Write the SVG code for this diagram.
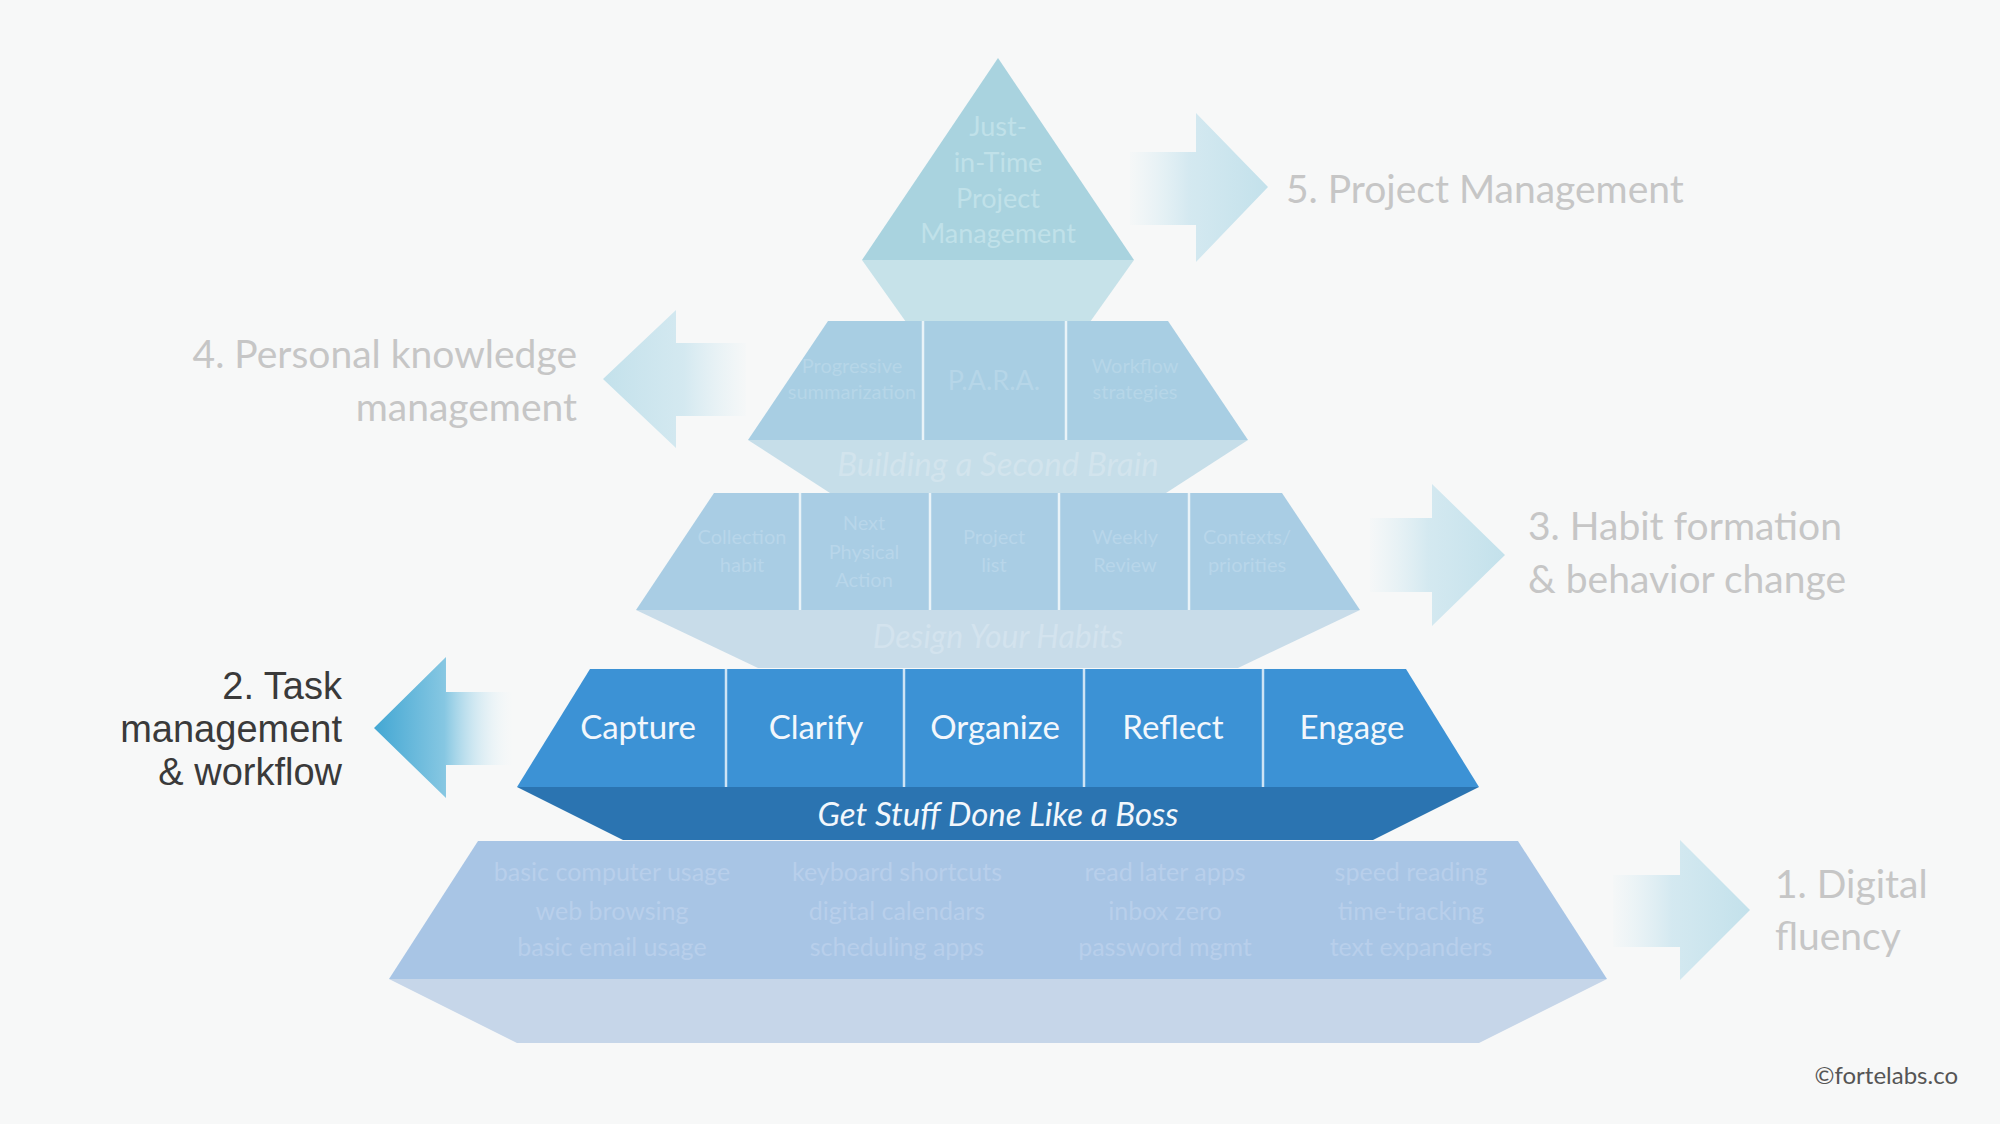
<svg xmlns="http://www.w3.org/2000/svg" width="2000" height="1124" viewBox="0 0 2000 1124">
<defs>
<style>
.side{font-family:Lato,"Source Sans Pro","Open Sans",sans-serif;font-size:39px;fill:#c6c6c6}
.dark{font-family:"Liberation Sans",Arial,sans-serif;font-size:38px;fill:#3a3a3a}
.faint{font-family:Lato,"Open Sans",sans-serif;text-anchor:middle}
.gtd{font-family:Lato,"Open Sans",sans-serif;font-size:33px;fill:#f2f7fc;text-anchor:middle}
.it{font-style:italic}
.div{stroke:#ffffff;stroke-opacity:0.75;stroke-width:2.5}
</style>
<linearGradient id="g5" gradientUnits="userSpaceOnUse" x1="1125" y1="0" x2="1268" y2="0">
<stop offset="0" stop-color="#dceef4" stop-opacity="0"/>
<stop offset="0.45" stop-color="#d2e8f0" stop-opacity="0.95"/>
<stop offset="1" stop-color="#c3e1eb"/>
</linearGradient>
<linearGradient id="g4" gradientUnits="userSpaceOnUse" x1="750" y1="0" x2="603" y2="0">
<stop offset="0" stop-color="#dceef4" stop-opacity="0"/>
<stop offset="0.45" stop-color="#d2e8f0" stop-opacity="0.95"/>
<stop offset="1" stop-color="#c3e1eb"/>
</linearGradient>
<linearGradient id="g3" gradientUnits="userSpaceOnUse" x1="1365" y1="0" x2="1505" y2="0">
<stop offset="0" stop-color="#dceef4" stop-opacity="0"/>
<stop offset="0.45" stop-color="#d2e8f0" stop-opacity="0.95"/>
<stop offset="1" stop-color="#c3e1eb"/>
</linearGradient>
<linearGradient id="g2" gradientUnits="userSpaceOnUse" x1="374" y1="0" x2="515" y2="0">
<stop offset="0" stop-color="#43a7d3"/>
<stop offset="0.5" stop-color="#86c7e2"/>
<stop offset="1" stop-color="#f2f9fc" stop-opacity="0"/>
</linearGradient>
<linearGradient id="g1" gradientUnits="userSpaceOnUse" x1="1608" y1="0" x2="1750" y2="0">
<stop offset="0" stop-color="#dceef4" stop-opacity="0"/>
<stop offset="0.45" stop-color="#d2e8f0" stop-opacity="0.95"/>
<stop offset="1" stop-color="#c3e1eb"/>
</linearGradient>
</defs>
<rect width="2000" height="1124" fill="#f7f8f8"/>

<g id="connectors">
<polygon points="1130,152 1196,152 1196,113 1268,187 1196,262 1196,225 1130,225" fill="url(#g5)"/>
<polygon points="603,379 676,310 676,343 746,343 746,416 676,416 676,448" fill="url(#g4)"/>
<polygon points="1370,518 1432,518 1432,484 1505,555 1432,626 1432,592 1370,592" fill="url(#g3)"/>
<polygon points="374,728 446,657 446,692 512,692 512,765 446,765 446,798" fill="url(#g2)"/>
<polygon points="1613,875 1680,875 1680,840 1750,910 1680,980 1680,947 1613,947" fill="url(#g1)"/>
</g>

<g id="layer5-top">
<polygon points="862,260 1134,260 1090,322 906,322" fill="#c6e2e9"/>
<polygon points="998,58 1134,260 862,260" fill="#a9d3df"/>
<g class="faint" font-size="27" fill="#c0e1e9">
<text x="998" y="136">Just-</text>
<text x="998" y="172">in-Time</text>
<text x="998" y="208">Project</text>
<text x="998" y="243">Management</text>
</g>
</g>

<g id="layer4-basb">
<polygon points="748,440 1248,440 1166,493 830,493" fill="#c6dee9"/>
<polygon points="828,321 1168,321 1248,440 748,440" fill="#a8cee3"/>
<line class="div" x1="923" y1="321" x2="923" y2="440"/>
<line class="div" x1="1066" y1="321" x2="1066" y2="440"/>
<g class="faint" font-size="20" fill="#b6d6e8">
<text x="852" y="373">Progressive</text>
<text x="852" y="399">summarization</text>
<text x="994" y="390" font-size="27">P.A.R.A.</text>
<text x="1135" y="373">Workflow</text>
<text x="1135" y="399">strategies</text>
</g>
<text class="faint it" x="998" y="476" font-size="33" fill="#d2e4ed">Building a Second Brain</text>
</g>

<g id="layer3-habits">
<polygon points="636,610 1360,610 1238,668 758,668" fill="#c8dce9"/>
<polygon points="714,493 1282,493 1360,610 636,610" fill="#a9cde4"/>
<line class="div" x1="800" y1="493" x2="800" y2="610"/>
<line class="div" x1="930" y1="493" x2="930" y2="610"/>
<line class="div" x1="1059" y1="493" x2="1059" y2="610"/>
<line class="div" x1="1189" y1="493" x2="1189" y2="610"/>
<g class="faint" font-size="20" fill="#b8d6ea">
<text x="742" y="544">Collection</text>
<text x="742" y="572">habit</text>
<text x="864" y="530">Next</text>
<text x="864" y="559">Physical</text>
<text x="864" y="587">Action</text>
<text x="994" y="544">Project</text>
<text x="994" y="572">list</text>
<text x="1125" y="544">Weekly</text>
<text x="1125" y="572">Review</text>
<text x="1247" y="544">Contexts/</text>
<text x="1247" y="572">priorities</text>
</g>
<text class="faint it" x="998" y="648" font-size="32" fill="#d3e3ee">Design Your Habits</text>
</g>

<g id="layer2-gtd">
<polygon points="517,787 1479,787 1373,840 623,840" fill="#2b74b1"/>
<polygon points="590,669 1406,669 1479,787 517,787" fill="#3c92d5"/>
<line class="div" x1="726" y1="669" x2="726" y2="787"/>
<line class="div" x1="904" y1="669" x2="904" y2="787"/>
<line class="div" x1="1084" y1="669" x2="1084" y2="787"/>
<line class="div" x1="1263" y1="669" x2="1263" y2="787"/>
<text class="gtd" x="638" y="739">Capture</text>
<text class="gtd" x="816" y="739">Clarify</text>
<text class="gtd" x="995" y="739">Organize</text>
<text class="gtd" x="1173" y="739">Reflect</text>
<text class="gtd" x="1352" y="739">Engage</text>
<text class="gtd it" x="998" y="826" font-size="32">Get Stuff Done Like a Boss</text>
</g>

<g id="layer1-digital">
<polygon points="389,979 1607,979 1479,1043 517,1043" fill="#c6d6e9"/>
<polygon points="478,841 1518,841 1607,979 389,979" fill="#a8c5e5"/>
<g class="faint" font-size="25" fill="#b8cfeb">
<text x="612" y="881">basic computer usage</text>
<text x="612" y="920">web browsing</text>
<text x="612" y="956">basic email usage</text>
<text x="897" y="881">keyboard shortcuts</text>
<text x="897" y="920">digital calendars</text>
<text x="897" y="956">scheduling apps</text>
<text x="1165" y="881">read later apps</text>
<text x="1165" y="920">inbox zero</text>
<text x="1165" y="956">password mgmt</text>
<text x="1411" y="881">speed reading</text>
<text x="1411" y="920">time-tracking</text>
<text x="1411" y="956">text expanders</text>
</g>
</g>

<g id="label5">
<text class="side" x="1286" y="203">5. Project Management</text>
</g>
<g id="label4" text-anchor="end">
<text class="side" x="577" y="368">4. Personal knowledge</text>
<text class="side" x="577" y="421">management</text>
</g>
<g id="label3">
<text class="side" x="1528" y="540">3. Habit formation</text>
<text class="side" x="1528" y="593">&amp; behavior change</text>
</g>
<g id="label2" text-anchor="end">
<text class="dark" x="342" y="699">2. Task</text>
<text class="dark" x="342" y="742">management</text>
<text class="dark" x="342" y="785">&amp; workflow</text>
</g>
<g id="label1">
<text class="side" x="1775" y="898">1. Digital</text>
<text class="side" x="1775" y="950">fluency</text>
</g>
<text x="1958" y="1084" text-anchor="end" font-family="Lato,'Open Sans',sans-serif" font-size="24" fill="#555555">©fortelabs.co</text>
</svg>
